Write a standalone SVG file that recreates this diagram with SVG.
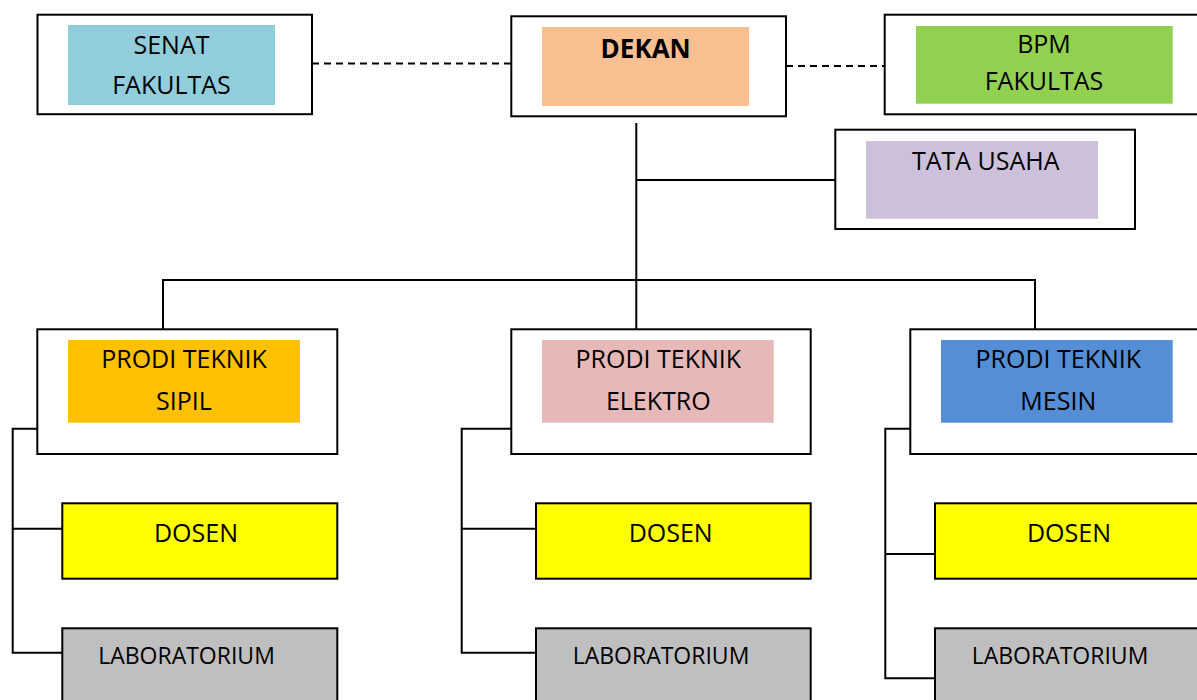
<svg xmlns="http://www.w3.org/2000/svg" width="1197" height="700" viewBox="0 0 1197 700">
<style>
.outer{fill:#fff;stroke:#000;stroke-width:2}
.box{stroke:#000;stroke-width:2}
.t{font-family:"Open Sans","Noto Sans",sans-serif;font-size:25px;fill:#000;text-anchor:middle}
.s{font-size:23px}
.b{font-weight:bold;font-size:26px}
.ln{stroke:#000;stroke-width:2;fill:none}
.dash{stroke:#000;stroke-width:2;fill:none;stroke-dasharray:7 5}
</style>
<rect width="1197" height="700" fill="#fff"/>
<g id="connectors">
<line class="dash" x1="312" y1="63.5" x2="511" y2="63.5"/>
<line class="dash" x1="786" y1="66" x2="885" y2="66"/>
<line class="ln" x1="636.3" y1="123" x2="636.3" y2="329"/>
<line class="ln" x1="636.3" y1="180" x2="835" y2="180"/>
<polyline class="ln" points="163,329 163,280 1035,280 1035,329"/>
<polyline class="ln" points="37.5,428.7 12.7,428.7 12.7,652.7 62.3,652.7"/>
<line class="ln" x1="12.7" y1="528.7" x2="62.3" y2="528.7"/>
<polyline class="ln" points="511.3,428.7 461.7,428.7 461.7,652.7 536,652.7"/>
<line class="ln" x1="461.7" y1="528.7" x2="536" y2="528.7"/>
<polyline class="ln" points="910.3,428.7 885.3,428.7 885.3,678.3 935,678.3"/>
<line class="ln" x1="885.3" y1="554" x2="935" y2="554"/>
</g>
<g id="senat">
<rect class="outer" x="37.5" y="14.7" width="274.5" height="99.5"/>
<rect x="68" y="25" width="207" height="80" fill="#92CDDC"/>
<text class="t" x="171.5" y="53.5">SENAT</text>
<text class="t" x="171.5" y="94">FAKULTAS</text>
</g>
<g id="dekan">
<rect class="outer" x="511.3" y="16.3" width="274.7" height="100"/>
<rect x="542" y="27" width="207" height="79" fill="#F8C090"/>
<text class="t b" x="645.7" y="58.3">DEKAN</text>
</g>
<g id="bpm">
<rect class="outer" x="884.7" y="14.7" width="320" height="99.6"/>
<rect x="916" y="26" width="256.7" height="77.7" fill="#92D050"/>
<text class="t" x="1044" y="53.3">BPM</text>
<text class="t" x="1044" y="90">FAKULTAS</text>
</g>
<g id="tata-usaha">
<rect class="outer" x="835.3" y="129.7" width="299.7" height="99.3"/>
<rect x="866" y="141" width="232" height="77.7" fill="#CCC0DA"/>
<text class="t" x="985.7" y="170">TATA USAHA</text>
</g>
<g id="prodi-sipil">
<rect class="outer" x="37.3" y="329.3" width="300" height="124.7"/>
<rect x="68" y="340" width="232" height="82.7" fill="#FFC000"/>
<text class="t" x="184" y="367.7">PRODI TEKNIK</text>
<text class="t" x="184" y="410">SIPIL</text>
</g>
<g id="prodi-elektro">
<rect class="outer" x="511.3" y="329.3" width="299.4" height="124.7"/>
<rect x="542" y="340" width="231.7" height="82.7" fill="#E6B9B8"/>
<text class="t" x="658.3" y="367.7">PRODI TEKNIK</text>
<text class="t" x="658.3" y="410">ELEKTRO</text>
</g>
<g id="prodi-mesin">
<rect class="outer" x="910.3" y="329.3" width="300" height="124.7"/>
<rect x="941" y="340" width="231.7" height="82.7" fill="#558ED5"/>
<text class="t" x="1058.3" y="367.7">PRODI TEKNIK</text>
<text class="t" x="1058.3" y="410">MESIN</text>
</g>
<g id="dosen-sipil">
<rect class="box" x="62.3" y="503.3" width="275" height="75.4" fill="#FFFF00"/>
<text class="t" x="196" y="541.7">DOSEN</text>
</g>
<g id="lab-sipil">
<rect class="box" x="62.3" y="628.3" width="275" height="90" fill="#BFBFBF"/>
<text class="t s" x="186.5" y="664.3">LABORATORIUM</text>
</g>
<g id="dosen-elektro">
<rect class="box" x="536" y="503.3" width="274.7" height="75.4" fill="#FFFF00"/>
<text class="t" x="670.7" y="541.7">DOSEN</text>
</g>
<g id="lab-elektro">
<rect class="box" x="536" y="628.3" width="274.7" height="90" fill="#BFBFBF"/>
<text class="t s" x="661" y="664.3">LABORATORIUM</text>
</g>
<g id="dosen-mesin">
<rect class="box" x="935" y="503.3" width="275" height="75.4" fill="#FFFF00"/>
<text class="t" x="1069" y="541.7">DOSEN</text>
</g>
<g id="lab-mesin">
<rect class="box" x="935" y="628.3" width="275" height="90" fill="#BFBFBF"/>
<text class="t s" x="1060" y="664.3">LABORATORIUM</text>
</g>
</svg>
